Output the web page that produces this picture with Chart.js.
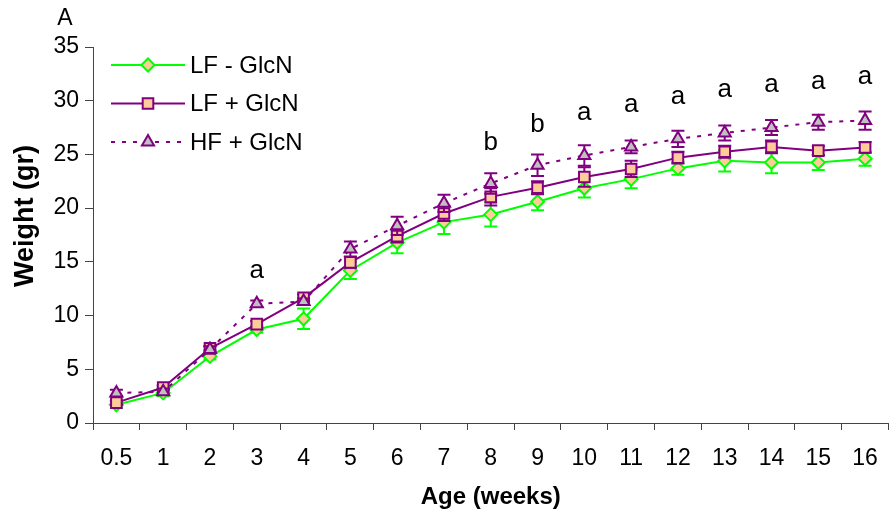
<!DOCTYPE html>
<html>
<head>
<meta charset="utf-8">
<script src="https://cdn.jsdelivr.net/npm/chart.js@4.4.0/dist/chart.umd.min.js"></script>
<style>
  html, body { margin: 0; padding: 0; background: #fff; overflow: hidden; }
  #wrap { position: relative; width: 898px; height: 518px; }
</style>
</head>
<body>
<div id="wrap"><canvas id="WeightChart"></canvas></div>
<script>
// ================= Data =================
const ages = ['0.5', '1', '2', '3', '4', '5', '6', '7', '8', '9', '10', '11', '12', '13', '14', '15', '16'];

const lfMinusGlcN    = [1.7, 2.8, 6.2, 8.7, 9.7, 14.2, 16.8, 18.7, 19.4, 20.6, 21.85, 22.7, 23.7, 24.4, 24.25, 24.25, 24.6];
const lfMinusGlcNErr = [0.3, 0.3, 0.3, 0.3, 0.95, 0.8, 1.0, 1.1, 1.1, 0.8, 0.85, 0.85, 0.6, 1.0, 1.0, 0.7, 0.65];

const lfPlusGlcN     = [1.9, 3.3, 6.95, 9.2, 11.65, 14.95, 17.4, 19.5, 21.05, 21.9, 22.9, 23.65, 24.7, 25.25, 25.7, 25.35, 25.65];
const lfPlusGlcNErr  = [0.2, 0.2, 0.2, 0.3, 0.3, 0.5, 0.6, 0.7, 0.8, 0.6, 0.9, 0.75, 0.55, 0.55, 0.6, 0.4, 0.5];

const hfPlusGlcN     = [2.8, 2.9, 6.85, 11.1, 11.3, 16.2, 18.35, 20.45, 22.3, 24.0, 24.9, 25.7, 26.45, 27.0, 27.5, 28.0, 28.15];
const hfPlusGlcNErr  = [0.3, 0.3, 0.3, 0.3, 0.3, 0.7, 0.85, 0.8, 0.95, 1.0, 0.95, 0.6, 0.75, 0.7, 0.7, 0.7, 0.85];

// significance letters and the height (in gr) where they sit
const sigLetters = ['', '', '', 'a', '', '', '', '', 'b', 'b', 'a', 'a', 'a', 'a', 'a', 'a', 'a'];
const sigHeight  = [null, null, null, 14.2, null, null, null, null, 26.05, 27.75, 28.85, 29.6, 30.4, 31.0, 31.5, 31.8, 32.25];

const yTicks = [0, 5, 10, 15, 20, 25, 30, 35];

const FONT = "'Liberation Sans', Arial, sans-serif";
const GREEN = '#00ff00';
const PURPLE = '#800080';

// ================= Plugins =================
const errorBars = {
  id: 'errorBars',
  beforeDatasetDraw(chart, args) {
    const ds = chart.data.datasets[args.index];
    if (!ds.errors) return;
    const meta = chart.getDatasetMeta(args.index);
    const y = chart.scales.y;
    const ctx = chart.ctx;
    ctx.save();
    ctx.strokeStyle = ds.borderColor;
    ctx.lineWidth = 2;
    meta.data.forEach((pt, i) => {
      const v = ds.data[i], e = ds.errors[i];
      const top = y.getPixelForValue(v + e);
      const bot = y.getPixelForValue(v - e);
      ctx.beginPath();
      ctx.moveTo(pt.x, top); ctx.lineTo(pt.x, bot);
      ctx.moveTo(pt.x - 6.5, top); ctx.lineTo(pt.x + 6.5, top);
      ctx.moveTo(pt.x - 6.5, bot); ctx.lineTo(pt.x + 6.5, bot);
      ctx.stroke();
    });
    ctx.restore();
  }
};

const extras = {
  id: 'extras',
  afterDraw(chart) {
    const ctx = chart.ctx;
    const {x, y} = chart.scales;
    const area = chart.chartArea;
    ctx.save();
    ctx.fillStyle = '#000';

    // letters above the points
    ctx.font = `26px ${FONT}`;
    ctx.textAlign = 'center';
    ctx.textBaseline = 'middle';
    sigLetters.forEach((l, i) => {
      if (!l) return;
      ctx.fillText(l, x.getPixelForValue(i), y.getPixelForValue(sigHeight[i]));
    });

    // panel letter
    ctx.font = `23px ${FONT}`;
    ctx.fillText('A', 65, 19);

    // y axis title
    ctx.save();
    ctx.translate(26, 216);
    ctx.rotate(-Math.PI / 2);
    ctx.font = `bold 27px ${FONT}`;
    ctx.fillText('Weight (gr)', 0, 0);
    ctx.restore();

    // legend inside the plot, line + marker like the series
    const rows = chart.data.datasets;
    const lx0 = area.left + 18, lx1 = area.left + 92, mx = (lx0 + lx1) / 2;
    rows.forEach((ds, i) => {
      const ry = 65 + i * 38.5;
      ctx.strokeStyle = ds.borderColor;
      ctx.lineWidth = ds.borderWidth;
      ctx.setLineDash(ds.borderDash || []);
      ctx.beginPath(); ctx.moveTo(lx0, ry); ctx.lineTo(lx1, ry); ctx.stroke();
      ctx.setLineDash([]);
      ctx.fillStyle = ds.pointBackgroundColor;
      ctx.strokeStyle = ds.pointBorderColor;
      ctx.lineWidth = ds.pointBorderWidth;
      Chart.helpers.drawPoint(ctx, {pointStyle: ds.pointStyle, radius: ds.pointRadius, rotation: 0, borderWidth: ds.pointBorderWidth}, mx, ry);
      ctx.fillStyle = '#000';
      ctx.font = `24px ${FONT}`;
      ctx.textAlign = 'left';
      ctx.fillText(ds.label, lx1 + 5, ry + 1);
    });
    ctx.restore();
  }
};

// ================= Chart =================
const ctx = document.getElementById('WeightChart').getContext('2d');

new Chart(ctx, {
  type: 'line',
  data: {
    labels: ages,
    datasets: [
      {
        label: 'LF - GlcN',
        data: lfMinusGlcN,
        errors: lfMinusGlcNErr,
        borderColor: GREEN,
        borderWidth: 2,
        pointStyle: 'rectRot',
        pointRadius: 6.5,
        pointBackgroundColor: '#ffcc99',
        pointBorderColor: GREEN,
        pointBorderWidth: 2,
        tension: 0,
        order: 3
      },
      {
        label: 'LF + GlcN',
        data: lfPlusGlcN,
        errors: lfPlusGlcNErr,
        borderColor: PURPLE,
        borderWidth: 2,
        pointStyle: 'rect',
        pointRadius: 7.5,
        pointBackgroundColor: '#ffcc99',
        pointBorderColor: PURPLE,
        pointBorderWidth: 2,
        tension: 0,
        order: 2
      },
      {
        label: 'HF + GlcN',
        data: hfPlusGlcN,
        errors: hfPlusGlcNErr,
        borderColor: PURPLE,
        borderWidth: 2,
        borderDash: [4, 7],
        pointStyle: 'triangle',
        pointRadius: 7,
        pointBackgroundColor: '#c0c0c0',
        pointBorderColor: PURPLE,
        pointBorderWidth: 2,
        tension: 0,
        order: 1
      }
    ]
  },
  options: {
    responsive: true,
    maintainAspectRatio: false,
    animation: false,
    layout: { padding: { top: 47, left: 0, right: 0, bottom: 0 } },
    plugins: {
      legend: { display: false },
      tooltip: { enabled: false }
    },
    scales: {
      x: {
        type: 'category',
        offset: true,
        afterFit: s => { s.height = 95; },
        grid: { offset: true, drawOnChartArea: false, tickLength: 7, color: '#444' },
        border: { color: '#444', width: 1 },
        ticks: { color: '#000', font: { family: FONT, size: 23 }, padding: 15, maxRotation: 0, autoSkip: false },
        title: { display: true, text: 'Age (weeks)', color: '#000', font: { family: FONT, size: 24, weight: 'bold' }, padding: { top: 0, bottom: 6 } }
      },
      y: {
        min: 0,
        max: 35,
        afterFit: s => { s.width = 93; },
        afterBuildTicks: s => { s.ticks = yTicks.map(v => ({ value: v })); },
        grid: { drawOnChartArea: false, tickLength: 8, color: '#444' },
        border: { color: '#444', width: 1 },
        ticks: { color: '#000', font: { family: FONT, size: 23 }, padding: 6 },
        title: { display: false }
      }
    }
  },
  plugins: [errorBars, extras]
});
</script>
</body>
</html>
